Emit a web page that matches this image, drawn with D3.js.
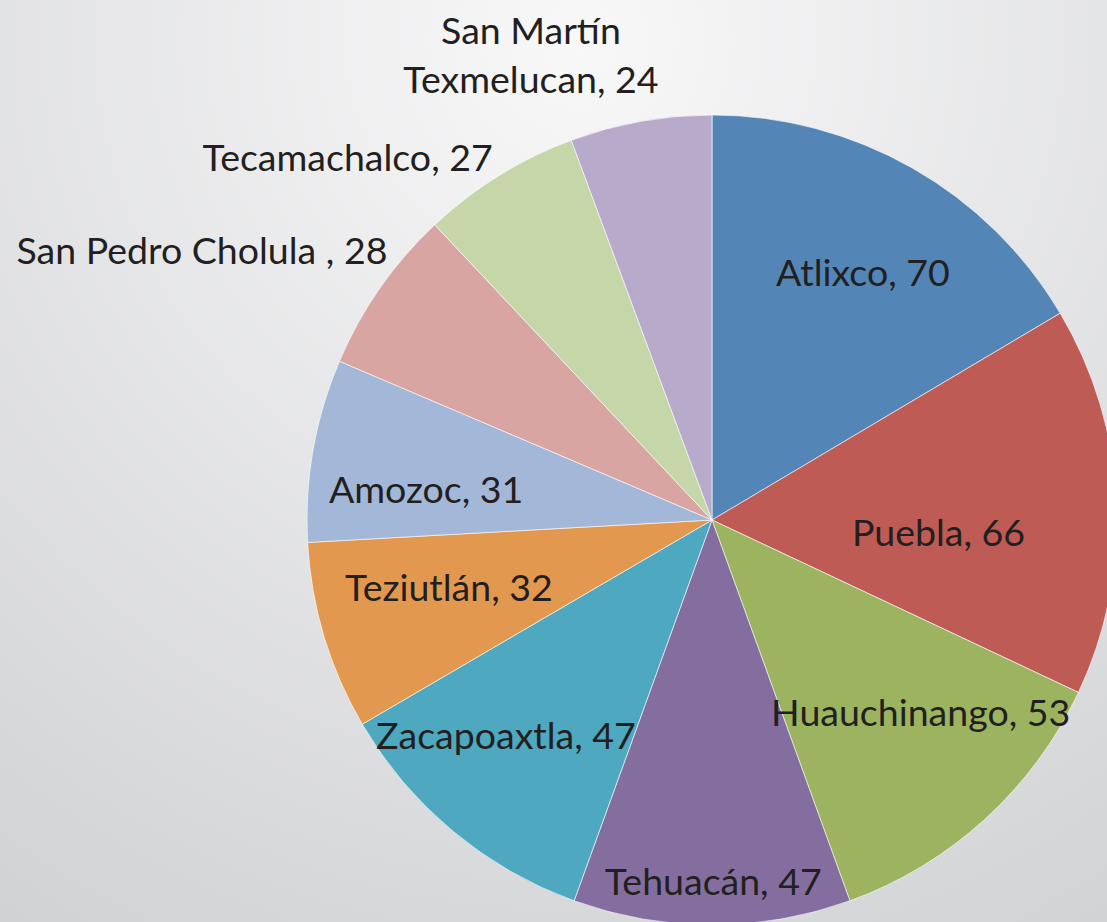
<!DOCTYPE html>
<html><head><meta charset="utf-8">
<script src="https://cdn.jsdelivr.net/npm/d3@7"></script>
<style>
html,body{margin:0;padding:0;overflow:hidden;background:#e6e7e9;}
svg{display:block;}
</style></head>
<body>
<svg id="chart" width="1107" height="922"></svg>
<script>
// Data
const categories = ["Atlixco","Puebla","Huauchinango","Tehuacán","Zacapoaxtla","Teziutlán","Amozoc","San Pedro Cholula ","Tecamachalco","San Martín Texmelucan"];
const values = [70,66,53,47,47,32,31,28,27,24];
const colors = ["#5385b7","#be5b55","#9cb35f","#836e9f","#4ea8bf","#e3984f","#a3b7d8","#d8a5a3","#c5d6a9","#b8aaca"];
// label layout: polar [radius fraction, angle in degrees clockwise from top], plus line breaks
const labelPolar = [[0.717,31.3],[0.56,93.0],[0.70,132.6],[0.89,179.8],[0.735,223.8],[0.67,255.8],[0.71,276.2],[1.425,297.9],[1.270,314.9],[1.236,338.8]];
const labelLines = [null,null,null,null,null,null,null,null,null,["San Martín","Texmelucan, 24"]];

const W=1107,H=922,cx=712,cy=520,R=405;
const svg=d3.select("#chart");
const defs=svg.append("defs");
const g=defs.append("radialGradient").attr("id","bg").attr("gradientUnits","userSpaceOnUse")
  .attr("cx",580).attr("cy",40).attr("r",1050);
g.append("stop").attr("offset","0").attr("stop-color","#f8f8f9");
g.append("stop").attr("offset","1").attr("stop-color","#d1d2d4");
svg.append("rect").attr("width",W).attr("height",H).attr("fill","url(#bg)");

const data=categories.map((c,i)=>({name:c,value:values[i],color:colors[i],i}));
const pie=d3.pie().value(d=>d.value).sort(null);
const arc=d3.arc().innerRadius(0).outerRadius(R);
const arcs=pie(data);
const root=svg.append("g").attr("transform",`translate(${cx},${cy})`);
root.selectAll("path").data(arcs).enter().append("path")
  .attr("d",arc).attr("fill",d=>d.data.color)
  .attr("stroke","rgba(255,255,255,0.6)").attr("stroke-width",1);

const font="'Lato', 'Open Sans', sans-serif";
const lab=root.selectAll("text.lbl").data(arcs).enter().append("text")
  .attr("class","lbl")
  .attr("font-family",font).attr("font-size",37.5).attr("fill","#231f20")
  .attr("text-anchor","middle").attr("dominant-baseline","central")
  .attr("transform",d=>{const p=labelPolar[d.index];const a=p[1]*Math.PI/180;const r=p[0]*R;return `translate(${r*Math.sin(a)},${-r*Math.cos(a)})`;});
lab.each(function(d){
  const t=d3.select(this);
  const lines=labelLines[d.index];
  if(lines){
    lines.forEach((l,k)=>t.append("tspan").attr("x",0).attr("dy",k===0?"-0.66em":"1.32em").text(l));
  } else {
    t.text(d.data.name+", "+d.data.value);
  }
});
</script>
</body></html>
